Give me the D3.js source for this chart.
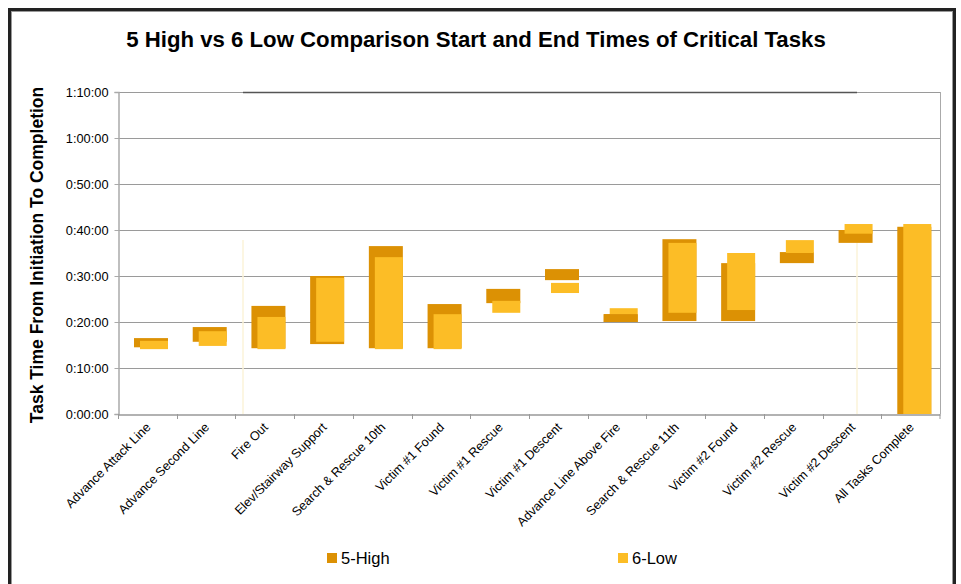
<!DOCTYPE html>
<html><head><meta charset="utf-8">
<script src="https://cdn.jsdelivr.net/npm/d3@7/dist/d3.min.js"></script>
<style>body{margin:0;background:#fff;}svg{display:block;font-family:"Liberation Sans",Arial,sans-serif;}</style>
</head><body>
<svg id="c" width="961" height="584"></svg>
<script>
// Task categories
const categories = ["Advance Attack Line","Advance Second Line","Fire Out","Elev/Stairway Support","Search & Rescue 10th","Victim #1 Found","Victim #1 Rescue","Victim #1 Descent","Advance Line Above Fire","Search & Rescue 11th","Victim #2 Found","Victim #2 Rescue","Victim #2 Descent","All Tasks Complete"];
// Start / end times in minutes
const highStart = [14.5, 15.7, 14.3, 15.2, 14.3, 14.3, 24.1, 29.1, 20.0, 20.2, 20.2, 32.8, 37.2, 0];
const highEnd   = [16.5, 18.9, 23.5, 30.0, 36.5, 23.9, 27.2, 31.5, 21.7, 38.0, 32.8, 35.2, 40.0, 40.7];
const lowStart  = [14.1, 14.8, 14.1, 15.7, 14.1, 14.1, 22.0, 26.3, 21.7, 22.0, 22.6, 35.0, 39.2, 0];
const lowEnd    = [15.9, 18.0, 21.1, 29.6, 34.1, 21.7, 24.6, 28.5, 23.0, 37.2, 35.0, 37.8, 41.3, 41.3];
const yTicks = [0, 10, 20, 30, 40, 50, 60, 70];
const seriesNames = ["5-High", "6-Low"];
const colors = {"5-High": "#dc9104", "6-Low": "#fcbd26"};

const svg = d3.select("#c");
const m = {l: 118, r: 940, t: 92, b: 414};

// outer frame
svg.append("rect").attr("x", 9.5).attr("y", 9.5).attr("width", 945).attr("height", 600)
  .attr("fill", "none").attr("stroke", "#222").attr("stroke-width", 3);
svg.append("rect").attr("x", 11.5).attr("y", 11.5).attr("width", 941).attr("height", 600)
  .attr("fill", "none").attr("stroke", "#999").attr("stroke-width", 1);

svg.append("text").attr("x", 476).attr("y", 47).attr("text-anchor", "middle")
  .attr("font-size", 22.2).attr("font-weight", "bold").attr("fill", "#000")
  .text("5 High vs 6 Low Comparison Start and End Times of Critical Tasks");

const x = d3.scaleBand().domain(categories).range([m.l, m.r]).padding(0);
const y = d3.scaleLinear().domain([0, 70]).range([m.b, m.t]);

function fmt(v) {
  const h = Math.floor(v / 60), mm = Math.floor(v % 60);
  return h + ":" + String(mm).padStart(2, "0") + ":00";
}

// gridlines
svg.append("g").selectAll("line").data(yTicks.slice(1)).join("line")
  .attr("x1", m.l).attr("x2", m.r).attr("y1", d => Math.round(y(d)) + 0.5).attr("y2", d => Math.round(y(d)) + 0.5)
  .attr("stroke", "#9a9a9a").attr("stroke-width", 1);
svg.append("line").attr("x1", 243).attr("x2", 857).attr("y1", m.t + 0.5).attr("y2", m.t + 0.5)
  .attr("stroke", "#555").attr("stroke-width", 1.5);
svg.append("line").attr("x1", m.r + 0.5).attr("x2", m.r + 0.5).attr("y1", m.t).attr("y2", m.b)
  .attr("stroke", "#aaa");

// faint band separators
[243, 857].forEach(px => svg.append("line").attr("x1", px).attr("x2", px).attr("y1", 240).attr("y2", m.b)
  .attr("stroke", "#fbf3d8").attr("stroke-width", 1.5));

// bars
const hOff = 16, lOff = 22, hW = 34, lW = 28;
const g = svg.append("g");
g.selectAll("rect.h").data(categories).join("rect").attr("class", "h")
  .attr("x", d => x(d) + hOff).attr("width", hW)
  .attr("y", (d, i) => y(highEnd[i])).attr("height", (d, i) => y(highStart[i]) - y(highEnd[i]))
  .attr("fill", colors["5-High"]);
g.selectAll("rect.l").data(categories).join("rect").attr("class", "l")
  .attr("x", d => x(d) + lOff).attr("width", lW)
  .attr("y", (d, i) => y(lowEnd[i])).attr("height", (d, i) => y(lowStart[i]) - y(lowEnd[i]))
  .attr("fill", colors["6-Low"]);
// Advance Line Above Fire: 5-High drawn in front
g.append("rect").attr("x", x(categories[8]) + hOff).attr("width", hW)
  .attr("y", y(highEnd[8])).attr("height", y(highStart[8]) - y(highEnd[8])).attr("fill", colors["5-High"]);

// y axis
const ya = d3.axisLeft(y).tickValues(yTicks).tickFormat(fmt).tickSize(4).tickPadding(6);
const yg = svg.append("g").attr("transform", `translate(${m.l + 0.5},0)`).call(ya);
yg.select(".domain").attr("stroke", "#aaa").attr("stroke-width", 1.5);
yg.selectAll(".tick line").attr("stroke", "#aaa");
yg.selectAll(".tick text").attr("font-size", 12.8).attr("fill", "#000").attr("font-family", "Liberation Sans, Arial, sans-serif");

// x axis
const xa = d3.axisBottom(x).tickSize(0).tickFormat("");
const xg = svg.append("g").attr("transform", `translate(0,${m.b + 0.5})`).call(xa);
xg.select(".domain").attr("stroke", "#999").attr("stroke-width", 1.5);
svg.append("g").selectAll("line").data(categories.concat(["__end"])).join("line")
  .attr("x1", d => d === "__end" ? m.r : Math.round(x(d)) + 0.5)
  .attr("x2", d => d === "__end" ? m.r : Math.round(x(d)) + 0.5)
  .attr("y1", m.b).attr("y2", m.b + 5).attr("stroke", "#999");
svg.append("g").selectAll("text").data(categories).join("text")
  .attr("transform", d => `translate(${x(d) + x.bandwidth() / 2 + 4},${m.b + 14}) rotate(-45)`)
  .attr("text-anchor", "end").attr("font-size", 12.6).attr("fill", "#000")
  .text(d => d);

// y title
svg.append("text").attr("transform", "translate(43,255) rotate(-90)").attr("text-anchor", "middle")
  .attr("font-size", 17.5).attr("font-weight", "bold").attr("fill", "#000")
  .text("Task Time From Initiation To Completion");

// legend
const lx = [327, 618];
seriesNames.forEach((s, i) => {
  svg.append("rect").attr("x", lx[i]).attr("y", 553).attr("width", 10).attr("height", 10).attr("fill", colors[s]);
  svg.append("text").attr("x", lx[i] + 14).attr("y", 564).attr("font-size", 16.5).attr("fill", "#000").text(s);
});
</script>
</body></html>
